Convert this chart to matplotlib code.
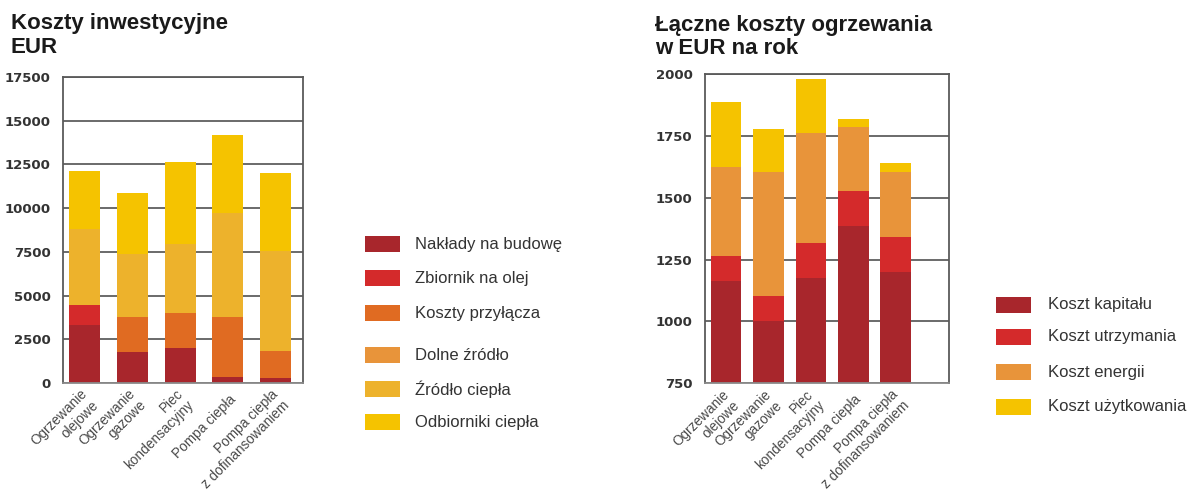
import matplotlib
matplotlib.use("Agg")
import matplotlib.pyplot as plt
from matplotlib.patches import Rectangle
from matplotlib.transforms import ScaledTranslation
import numpy as np

W, H = 1197, 498

# --- Investment costs (EUR) ---
inv_categories = ["Ogrzewanie\nolejowe", "Ogrzewanie\ngazowe", "Piec\nkondensacyjny",
                  "Pompa ciepła", "Pompa ciepła\nz dofinansowaniem"]
inv_series = ["Nakłady na budowę", "Zbiornik na olej", "Koszty przyłącza",
              "Dolne źródło", "Źródło ciepła", "Odbiorniki ciepła"]
naklady = [3300, 1800, 2000, 350, 300]
zbiornik = [1150, 0, 0, 0, 0]
przylacze = [0, 2000, 2000, 3450, 1550]
dolne = [0, 0, 0, 0, 0]
zrodlo = [4350, 3550, 3950, 5900, 5700]
odbiorniki = [3300, 3500, 4700, 4500, 4450]
inv_colors = ["#A8262C", "#D42A2B", "#E06B22", "#E8943A", "#EDB22C", "#F5C300"]
inv_ticks = [0, 2500, 5000, 7500, 10000, 12500, 15000, 17500]

# --- Annual heating costs (EUR / year) ---
heat_series = ["Koszt kapitału", "Koszt utrzymania", "Koszt energii", "Koszt użytkowania"]
kapital = [1165, 1003, 1177, 1386, 1200]
utrzymanie = [100, 100, 139, 143, 143]
energia = [360, 502, 447, 256, 262]
uzytkowanie = [263, 172, 216, 33, 34]
heat_colors = ["#A8262C", "#D42A2B", "#E8943A", "#F5C300"]
heat_ticks = [750, 1000, 1250, 1500, 1750, 2000]

fig = plt.figure(figsize=(W / 100, H / 100), dpi=100)
fig.patch.set_facecolor("white")


def fx(x):
    return x / W


def fy(y):
    return 1 - y / H


def style_axes(ax):
    ax.set_axisbelow(True)
    ax.yaxis.grid(True, color="#6a6a6a", linewidth=1.4)
    for s in ax.spines.values():
        s.set_color("#5a5a5a")
        s.set_linewidth(1.3)
    ax.spines["bottom"].set_color("#8a8a8a")
    ax.tick_params(axis="y", length=0, pad=9, labelsize=9.5, labelcolor="#333333")
    ax.tick_params(axis="x", length=0, pad=6)
    for lab in ax.get_yticklabels():
        lab.set_fontweight("bold")


def stacked(ax, layers, colors, width):
    x = np.arange(len(layers[0]))
    bottom = np.zeros(len(x))
    for vals, c in zip(layers, colors):
        ax.bar(x, vals, width, bottom=bottom, color=c, linewidth=0)
        bottom += np.array(vals)
    return x


def xlabels(ax, x, cats):
    ax.set_xticks(x)
    labels = ax.set_xticklabels(cats, rotation=45, ha="right", va="center",
                                rotation_mode="anchor", multialignment="right",
                                fontsize=9.8, family="Liberation Sans",
                                color="#4a4a4a", linespacing=1.15)
    shift = ScaledTranslation(6 / 100, -6 / 100, fig.dpi_scale_trans)
    for lab in labels:
        lab.set_transform(lab.get_transform() + shift)


# Left chart
ax1 = fig.add_axes([fx(63), fy(383), fx(240), 306 / H])
x1 = stacked(ax1, [naklady, zbiornik, przylacze, dolne, zrodlo, odbiorniki], inv_colors, 0.65)
ax1.set_xlim(-0.45, 4.57)
ax1.set_ylim(0, 17500)
ax1.set_yticks(inv_ticks)
ax1.set_yticklabels([str(t) for t in inv_ticks])
style_axes(ax1)
xlabels(ax1, x1, inv_categories)

# Right chart
ax2 = fig.add_axes([fx(705), fy(383.3), fx(244), 309.3 / H])
x2 = stacked(ax2, [kapital, utrzymanie, energia, uzytkowanie], heat_colors, 0.72)
ax2.set_xlim(-0.5, 5.26)
ax2.set_ylim(750, 2000)
ax2.set_yticks(heat_ticks)
ax2.set_yticklabels([str(t) for t in heat_ticks])
style_axes(ax2)
xlabels(ax2, x2, inv_categories)

# Titles
title_kw = dict(fontsize=16, fontweight="bold", color="#1a1a1a",
                family="Liberation Sans", va="baseline", ha="left")
fig.text(fx(11), fy(29), "Koszty inwestycyjne", **title_kw)
fig.text(fx(11), fy(53), "EUR", **title_kw)
fig.text(fx(655), fy(31), "Łączne koszty ogrzewania", **title_kw)
fig.text(fx(655), fy(54), "w EUR na rok", **title_kw)


# Legends
def legend(rows_y, names, colors, sx, tx):
    for yc, name, c in zip(rows_y, names, colors):
        fig.add_artist(Rectangle((fx(sx), fy(yc + 8)), fx(35), 16 / H,
                                 transform=fig.transFigure, color=c, lw=0))
        fig.text(fx(tx), fy(yc), name, fontsize=12, color="#333333",
                 family="Liberation Sans", va="center", ha="left")


legend([244, 278, 313, 355, 389, 422], inv_series, inv_colors, 365, 415)
legend([305, 337, 372, 407], heat_series, heat_colors, 996, 1048)

fig.savefig("out.png", dpi=100, facecolor="white")
